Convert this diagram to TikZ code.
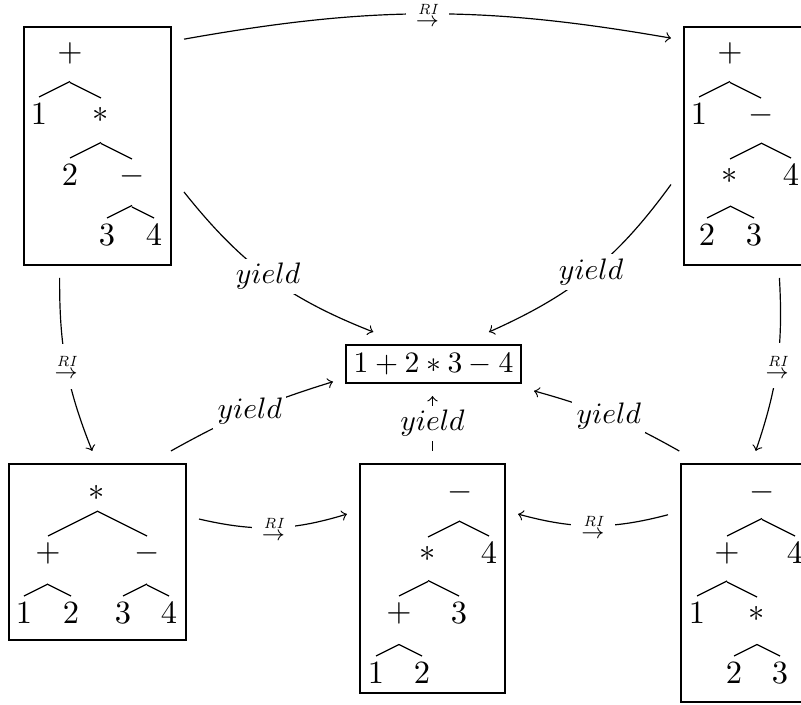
\documentclass[tikz,border=0pt]{standalone}
\usepackage{amsmath}
\usetikzlibrary{calc}
\newdimen\pxu \pxu=0.3375pt
\tikzset{
  treebox/.style={draw, inner sep=0pt, outer sep=13*\pxu},
  tl/.style={inner sep=0pt, font=\fontsize{11}{13}\selectfont},
  conn/.style={->},
  rilab/.style={fill=white, font=\scriptsize},
  ylab/.style={fill=white, inner sep=1.5pt},
}
\newcommand\tedge[2]{\draw let \p1=(#1), \p2=(#2) in (\x1,{\y2+17*\pxu+0.5*abs(\x2-\x1)}) -- (\x2,{\y2+17*\pxu});}
\newcommand\rilabel{$\stackrel{\textit{RI}}{\rightarrow}$}
\begin{document}
\begin{tikzpicture}[x=0.3375pt, y=-0.3375pt]
\useasboundingbox (0,0) rectangle (801,705);
\clip (0,0) rectangle (801,705);
% boxes
\node[treebox, minimum width=147*\pxu, minimum height=238*\pxu] (TL) at (97.5,146) {};
\node[treebox, minimum width=125*\pxu, minimum height=238*\pxu] (TR) at (746.5,146) {};
\node[treebox, minimum width=177*\pxu, minimum height=176*\pxu] (BL) at (97.5,552) {};
\node[treebox, minimum width=145*\pxu, minimum height=229*\pxu] (BM) at (432.5,578.5) {};
\node[treebox, minimum width=131*\pxu, minimum height=238*\pxu] (BR) at (746.5,583) {};
\node[treebox, minimum width=175*\pxu, minimum height=38*\pxu] (T) at (433.5,364) {$1+2*3-4$};
% tree TL
\node[tl] (tla) at (70,53) {$+$};
\node[tl] (tlb) at (39,114) {$1$};
\node[tl] (tlc) at (101,115) {$*$};
\node[tl] (tld) at (70,175) {$2$};
\node[tl] (tle) at (132,176) {$-$};
\node[tl] (tlf) at (107,235) {$3$};
\node[tl] (tlg) at (154,235) {$4$};
\tedge{tla}{tlb}\tedge{tla}{tlc}\tedge{tlc}{tld}\tedge{tlc}{tle}\tedge{tle}{tlf}\tedge{tle}{tlg}
% tree TR
\node[tl] (tra) at (730,53) {$+$};
\node[tl] (trb) at (699,114) {$1$};
\node[tl] (trc) at (761,115) {$-$};
\node[tl] (trd) at (730,176) {$*$};
\node[tl] (tre) at (791,175) {$4$};
\node[tl] (trf) at (707,235) {$2$};
\node[tl] (trg) at (754,235) {$3$};
\tedge{tra}{trb}\tedge{tra}{trc}\tedge{trc}{trd}\tedge{trc}{tre}\tedge{trd}{trf}\tedge{trd}{trg}
% tree BL
\node[tl] (bla) at (97,493) {$*$};
\node[tl] (blb) at (48,553) {$+$};
\node[tl] (blc) at (147,553) {$-$};
\node[tl] (bld) at (24,613) {$1$};
\node[tl] (ble) at (71,613) {$2$};
\node[tl] (blf) at (123,613) {$3$};
\node[tl] (blg) at (169,613) {$4$};
\tedge{bla}{blb}\tedge{bla}{blc}\tedge{blb}{bld}\tedge{blb}{ble}\tedge{blc}{blf}\tedge{blc}{blg}
% tree BM
\node[tl] (bma) at (460,492) {$-$};
\node[tl] (bmb) at (428,554) {$*$};
\node[tl] (bmc) at (489,553) {$4$};
\node[tl] (bmd) at (399,613) {$+$};
\node[tl] (bme) at (459,613) {$3$};
\node[tl] (bmf) at (376,673) {$1$};
\node[tl] (bmg) at (422,673) {$2$};
\tedge{bma}{bmb}\tedge{bma}{bmc}\tedge{bmb}{bmd}\tedge{bmb}{bme}\tedge{bmd}{bmf}\tedge{bmd}{bmg}
% tree BR
\node[tl] (bra) at (762,492) {$-$};
\node[tl] (brb) at (727,553) {$+$};
\node[tl] (brc) at (795,553) {$4$};
\node[tl] (brd) at (697,613) {$1$};
\node[tl] (bre) at (757,614) {$*$};
\node[tl] (brf) at (734,673) {$2$};
\node[tl] (brg) at (780,673) {$3$};
\tedge{bra}{brb}\tedge{bra}{brc}\tedge{brb}{brd}\tedge{brb}{bre}\tedge{bre}{brf}\tedge{bre}{brg}
% RI connectors
\draw[conn] (TL.51) to[bend left=10] node[rilab] {\rilabel} (TR.125);
\draw[conn] (TL.254) to[bend right=11] node[rilab] {\rilabel} (BL.93);
\draw[conn] (TR.-76) to[bend left=11] node[rilab] {\rilabel} (BR.86);
\draw[conn] (BL.18) to[bend right=15] node[rilab] {\rilabel} (BM.143);
\draw[conn] (BR.139) to[bend left=15] node[rilab] {\rilabel} (BM.37);
% yield connectors
\draw[conn] (TL.-28) to[bend right=15] node[ylab] {$yield$} (T.152);
\draw[conn] (TR.207) to[bend left=15] node[ylab] {$yield$} (T.30);
\draw[conn] (BL.54) to[bend left=6] node[ylab] {$yield$} (T.190);
\draw[conn] (BM.north) -- node[ylab] {$yield$} (BM.north |- T.south);
\draw[conn] (BR.117) to[bend right=7] node[ylab] {$yield$} (T.-15);
\end{tikzpicture}
\end{document}
